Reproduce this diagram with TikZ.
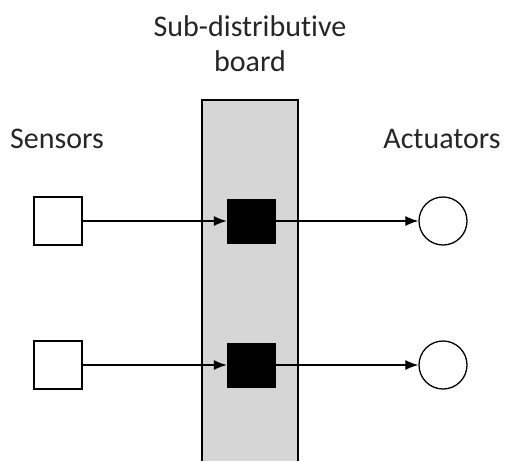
\documentclass[tikz,border=0pt]{standalone}
\usepackage{fontspec}
\setmainfont{Carlito}[Ligatures=NoCommon]
\usetikzlibrary{arrows.meta}
\tikzset{
    sensor/.style={draw, line width=1.3, fill=white, minimum width=48, minimum height=48, inner sep=0},
    relay/.style={draw=black, fill=black, minimum width=48, minimum height=44, inner sep=0},
    actuator/.style={draw, circle, line width=1.3, fill=white, minimum size=48, inner sep=0},
    label/.style={font=\fontsize{30}{35}\selectfont, text=black!85, align=center, inner sep=0},
    signal/.style={line width=1.2, -{Latex[length=13, width=10]}}
}
\begin{document}
\begin{tikzpicture}[x=1pt, y=-1pt]
    \useasboundingbox (0,0) rectangle (505,461);
    % Board
    \fill[gray!32] (202,100) rectangle (298,461);
    \draw[line width=1.3] (202,461) -- (202,100) -- (298,100) -- (298,461);
    % Titles
    \node[label] (board) at (250,44) {Sub-distributive\\board};
    \node[label, anchor=base] (sensors) at (57,148) {Sensors};
    \node[label, anchor=base] (actuators) at (442,148) {Actuators};
    % Rows
    \foreach \i/\y in {1/221, 2/365}
    {
        \node[sensor] (s\i) at (58,\y) {};
        \node[relay] (b\i) at (251,\y) {};
        \node[actuator] (a\i) at (443,\y) {};
        \draw[signal] (s\i) -- (b\i);
        \draw[signal] (b\i) -- (a\i);
    }
\end{tikzpicture}
\end{document}
